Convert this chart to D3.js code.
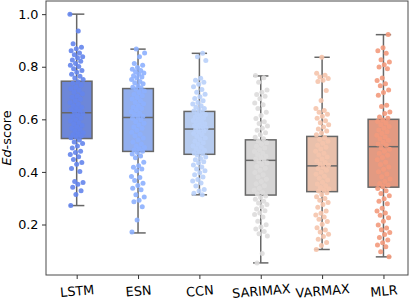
<!DOCTYPE html>
<html><head><meta charset="utf-8">
<script src="https://cdn.jsdelivr.net/npm/d3@7/dist/d3.min.js"></script>
<style>body{margin:0;background:#fff}svg{display:block}text{font-family:"DejaVu Sans",sans-serif}</style>
</head><body>
<svg id="c" width="415" height="303"></svg>
<script>
const categories = ["LSTM","ESN","CCN","SARIMAX","VARMAX","MLR"];
const pointColors = ["#6485ec","#8db0fe","#b9d0f9","#dddcdc","#f5c4ac","#f39a7c"];
// box statistics
const whiskerLow = [0.272,0.168,0.313,0.054,0.105,0.077];
const q1 = [0.527,0.478,0.467,0.312,0.325,0.342];
const median = [0.625,0.607,0.563,0.444,0.423,0.496];
const q3 = [0.745,0.717,0.630,0.522,0.535,0.600];
const whiskerHigh = [1.0,0.867,0.851,0.765,0.836,0.922];
const yTicks = [0.2,0.4,0.6,0.8,1.0];

const lstm = [1.0,0.936,0.887,0.874,0.868,0.861,0.852,0.846,0.838,0.834,0.826,0.821,0.812,0.806,0.801,0.792,0.786,0.779,0.771,0.764,0.757,0.751,
0.743,0.737,0.731,0.722,0.716,0.711,0.703,0.697,0.689,0.684,0.676,0.671,0.664,0.657,0.652,0.646,0.641,0.636,0.631,0.627,
0.621,0.616,0.611,0.604,0.598,0.594,0.587,0.582,0.577,0.571,0.566,0.561,0.556,0.549,0.545,0.541,0.537,0.533,0.530,
0.521,0.514,0.508,0.499,0.491,0.479,0.474,0.466,0.458,0.447,0.436,0.429,0.413,0.402,0.364,0.360,0.353,0.342,0.328,0.314,0.272];
const esn = [0.867,0.852,0.838,0.812,0.806,0.797,0.79,0.786,0.781,0.776,0.771,0.766,0.761,0.757,0.751,0.744,0.739,0.735,0.728,0.722,0.719,
0.714,0.708,0.702,0.695,0.69,0.683,0.677,0.671,0.664,0.659,0.652,0.646,0.641,0.636,0.629,0.623,0.618,0.612,0.609,
0.604,0.598,0.591,0.585,0.578,0.571,0.566,0.558,0.551,0.543,0.537,0.529,0.521,0.514,0.506,0.499,0.493,0.488,0.483,0.479,
0.474,0.468,0.461,0.454,0.437,0.423,0.418,0.411,0.404,0.383,0.379,0.367,0.357,0.348,0.338,0.332,0.313,0.305,0.292,0.287,0.268,0.217,0.172];
const ccn = [0.851,0.838,0.824,0.756,0.749,0.741,0.733,0.724,0.713,0.703,0.695,0.686,0.679,0.671,0.664,0.658,0.652,0.646,0.641,0.636,0.632,
0.627,0.622,0.618,0.613,0.609,0.604,0.600,0.596,0.591,0.587,0.583,0.579,0.576,0.572,0.569,0.566,0.564,
0.561,0.556,0.551,0.546,0.541,0.535,0.529,0.523,0.517,0.511,0.505,0.499,0.494,0.488,0.482,0.477,0.472,0.469,
0.464,0.457,0.451,0.446,0.439,0.434,0.426,0.419,0.411,0.404,0.397,0.389,0.381,0.371,0.365,0.358,0.346,0.333,0.327,0.319,0.313];
const sarimax = [0.767,0.758,0.741,0.712,0.703,0.694,0.688,0.678,0.662,0.655,0.641,0.627,0.615,0.603,0.591,0.584,0.575,0.566,0.558,0.549,0.541,0.532,0.526,
0.518,0.511,0.505,0.498,0.491,0.484,0.478,0.471,0.466,0.460,0.455,0.449,0.446,
0.441,0.435,0.428,0.421,0.414,0.406,0.398,0.389,0.381,0.372,0.364,0.355,0.347,0.338,0.330,0.322,0.316,
0.308,0.303,0.296,0.288,0.282,0.276,0.268,0.259,0.252,0.244,0.238,0.229,0.212,0.199,0.191,0.183,0.173,0.165,0.156,0.09,0.054];
const varmax = [0.836,0.775,0.768,0.761,0.755,0.749,0.744,0.71,0.672,0.641,0.634,0.627,0.619,0.612,0.604,0.595,0.587,0.579,0.571,0.563,0.556,0.548,0.541,
0.531,0.524,0.517,0.509,0.501,0.494,0.487,0.479,0.471,0.464,0.457,0.449,0.442,0.436,0.429,0.425,
0.419,0.413,0.406,0.399,0.391,0.384,0.376,0.369,0.361,0.354,0.347,0.341,0.336,0.331,0.327,
0.321,0.314,0.306,0.299,0.292,0.284,0.276,0.266,0.251,0.243,0.236,0.229,0.22,0.211,0.201,0.188,0.179,0.172,0.163,0.154,0.144,0.132,0.12,0.105];
const mlr = [0.923,0.872,0.861,0.851,0.827,0.818,0.808,0.799,0.792,0.757,0.748,0.735,0.728,0.712,0.702,0.692,0.654,0.649,0.628,0.622,0.609,0.604,
0.597,0.592,0.586,0.579,0.573,0.566,0.559,0.553,0.546,0.539,0.533,0.526,0.52,0.513,0.506,0.501,
0.492,0.486,0.479,0.471,0.463,0.455,0.446,0.437,0.428,0.419,0.41,0.401,0.392,0.382,0.373,0.364,0.356,0.349,0.344,
0.337,0.328,0.318,0.309,0.298,0.288,0.279,0.262,0.251,0.244,0.235,0.226,0.212,0.198,0.187,0.18,0.17,0.162,0.151,0.141,0.131,0.122,0.115,0.096,0.077];
const seriesValues = [lstm, esn, ccn, sarimax, varmax, mlr];

const svg = d3.select("#c");
const L = 46, R = 408, T = 1, B = 275;
const x = d3.scaleLinear().domain([-0.5, 5.4]).range([L, R]);
const y = d3.scaleLinear().domain([0.008, 1.05]).range([B, T]);
const boxW = x(0.25) - x(-0.25);
const capW = boxW / 2;
const edge = "#676767";

function desat(c){ const h = d3.hsl(c); h.s *= 0.75; h.l *= 0.97; return h.formatHex(); }

const g = svg.append("g");
categories.forEach((cat, i) => {
  const cx = x(i);
  const bg = g.append("g");
  bg.append("line").attr("x1",cx).attr("x2",cx).attr("y1",y(q3[i])).attr("y2",y(whiskerHigh[i]))
    .attr("stroke",edge).attr("stroke-width",1.5);
  bg.append("line").attr("x1",cx).attr("x2",cx).attr("y1",y(q1[i])).attr("y2",y(whiskerLow[i]))
    .attr("stroke",edge).attr("stroke-width",1.5);
  [whiskerHigh[i], whiskerLow[i]].forEach(v => {
    bg.append("line").attr("x1",cx-capW/2).attr("x2",cx+capW/2).attr("y1",y(v)).attr("y2",y(v))
      .attr("stroke",edge).attr("stroke-width",1.5);
  });
  bg.append("rect").attr("x",cx-boxW/2).attr("width",boxW)
    .attr("y",y(q3[i])).attr("height",y(q1[i])-y(q3[i]))
    .attr("fill",desat(pointColors[i])).attr("stroke",edge).attr("stroke-width",1.5);
  bg.append("line").attr("x1",cx-boxW/2).attr("x2",cx+boxW/2).attr("y1",y(median[i])).attr("y2",y(median[i]))
    .attr("stroke",edge).attr("stroke-width",1.5);
});
categories.forEach((cat, i) => {
  g.append("g").selectAll("circle").data(seriesValues[i]).join("circle")
    .attr("cx",(d,j) => x(i + (((j*0.618034 + i*0.37) % 1) - 0.5) * 0.22))
    .attr("cy",d => y(d)).attr("r",2.5)
    .attr("fill",pointColors[i]).attr("fill-opacity",0.9);
});

svg.append("rect").attr("x",L).attr("y",T).attr("width",R-L).attr("height",B-T)
  .attr("fill","none").attr("stroke","#4a4a4a").attr("stroke-width",1);

const ya = svg.append("g").attr("transform",`translate(${L},0)`)
  .call(d3.axisLeft(y).tickValues(yTicks).tickFormat(d3.format(".1f")).tickSize(4).tickPadding(3.5));
const xa = svg.append("g").attr("transform",`translate(0,${B})`)
  .call(d3.axisBottom(x).tickValues(d3.range(categories.length)).tickFormat(i => categories[i]).tickSize(4));
[ya, xa].forEach(a => {
  a.select(".domain").remove();
  a.selectAll(".tick line").attr("stroke","#333").attr("stroke-width",1);
  a.selectAll("text").attr("fill","#000").style("font-size","12.8px").style("font-family","DejaVu Sans");
});
xa.selectAll(".tick text").attr("y",null).attr("dy","0.35em").attr("text-anchor","middle")
  .attr("transform","translate(0,16) rotate(-5)");

const yl = svg.append("text").attr("transform",`translate(11,${(T+B)/2}) rotate(-90)`)
  .attr("text-anchor","middle").style("font-size","12.8px");
yl.append("tspan").style("font-style","italic").text("Ed");
yl.append("tspan").text("-score");
</script>
</body></html>
